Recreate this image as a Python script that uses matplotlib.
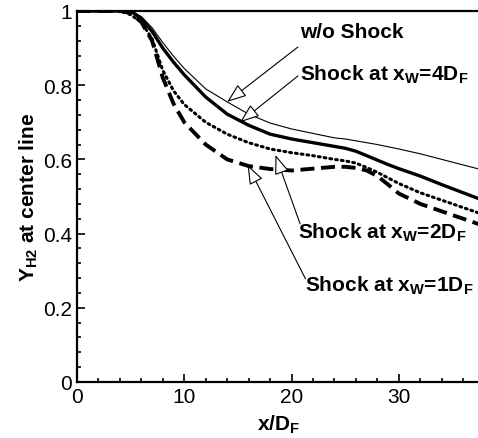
import matplotlib
matplotlib.use("Agg")
import matplotlib.pyplot as plt

plt.rcParams["font.family"] = ["Liberation Sans", "DejaVu Sans"]
plt.rcParams["mathtext.fontset"] = "custom"
plt.rcParams["mathtext.rm"] = "Liberation Sans"
plt.rcParams["mathtext.bf"] = "Liberation Sans:bold"
plt.rcParams["mathtext.default"] = "bf"

# centre-line H2 mass fraction vs x/D_F
x = [0, 4, 5, 6, 7, 8, 9, 10, 12, 14, 16, 18, 20, 22, 24, 25, 26, 27, 28, 29, 30,
     32, 34, 36, 38]
y_no_shock = [1, 1, 1, 0.985, 0.955, 0.915, 0.878, 0.845, 0.79, 0.755, 0.722, 0.698,
              0.682, 0.67, 0.658, 0.655, 0.65, 0.645, 0.64, 0.634, 0.628,
              0.615, 0.6, 0.585, 0.57]
y_4d = [1, 1, 1, 0.98, 0.945, 0.9, 0.862, 0.828, 0.768, 0.722, 0.692, 0.668,
        0.655, 0.645, 0.635, 0.63, 0.622, 0.61, 0.598, 0.586, 0.575,
        0.555, 0.532, 0.51, 0.488]
y_2d = [1, 1, 0.99, 0.97, 0.925, 0.84, 0.785, 0.748, 0.7, 0.668, 0.645, 0.628,
        0.618, 0.61, 0.6, 0.596, 0.59, 0.578, 0.565, 0.55, 0.535,
        0.51, 0.49, 0.47, 0.45]
y_1d = [1, 1, 0.995, 0.97, 0.92, 0.82, 0.75, 0.7, 0.64, 0.6, 0.582, 0.574,
        0.57, 0.575, 0.58, 0.58, 0.577, 0.57, 0.555, 0.532, 0.508,
        0.48, 0.46, 0.44, 0.42]

xticks = [0, 10, 20, 30]
yticks = [0, 0.2, 0.4, 0.6, 0.8, 1]
ytick_labels = ["0", "0.2", "0.4", "0.6", "0.8", "1"]

fig = plt.figure(figsize=(4.78, 4.39), dpi=100)
ax = fig.add_axes([0.161, 0.1276, 0.844, 0.8451])

ax.plot(x, y_no_shock, color="black", lw=0.8)
ax.plot(x, y_4d, color="black", lw=2.4)
ax.plot(x, y_2d, color="black", lw=2.2, linestyle=(0, (0.6, 1.3)),
        dash_capstyle="round")
ax.plot(x, y_1d, color="black", lw=2.8, linestyle=(0, (3.6, 1.7)))

ax.set_xlim(0, 37.6)
ax.set_ylim(0, 1)
ax.set_xticks(xticks)
ax.set_xticks(range(0, 38, 2), minor=True)
ax.set_yticks(yticks)
ax.set_yticklabels(ytick_labels)
ax.set_yticks([i * 0.04 for i in range(26)], minor=True)
ax.tick_params(which="both", direction="in", labelsize=15, width=1.2)
ax.tick_params(which="major", length=6)
ax.tick_params(which="minor", length=3)
ax.spines["right"].set_visible(False)
for s in ["left", "bottom", "top"]:
    ax.spines[s].set_linewidth(1.6)

ax.set_xlabel(r"x/D$_F$", fontsize=15, fontweight="bold", labelpad=5)
ax.set_ylabel(r"Y$_{H2}$ at center line", fontsize=15, fontweight="bold", labelpad=2)

arrow = dict(arrowstyle="-|>,head_length=1.2,head_width=0.45", fc="white",
             ec="black", lw=0.8, shrinkA=0, shrinkB=0)
txt = dict(fontsize=15, fontweight="bold", va="center", ha="left")

ax.text(20.8, 0.945, "w/o Shock", **txt)
ax.text(20.8, 0.83, r"Shock at x$_W$=4D$_F$", **txt)
ax.text(20.6, 0.404, r"Shock at x$_W$=2D$_F$", **txt)
ax.text(21.3, 0.261, r"Shock at x$_W$=1D$_F$", **txt)

ax.annotate("", xy=(14.0, 0.755), xytext=(20.6, 0.903), arrowprops=arrow)
ax.annotate("", xy=(15.2, 0.70), xytext=(20.6, 0.825), arrowprops=arrow)
ax.annotate("", xy=(18.5, 0.612), xytext=(20.8, 0.426), arrowprops=arrow)
ax.annotate("", xy=(15.9, 0.585), xytext=(21.3, 0.278), arrowprops=arrow)

fig.savefig("out.png", dpi=100)
